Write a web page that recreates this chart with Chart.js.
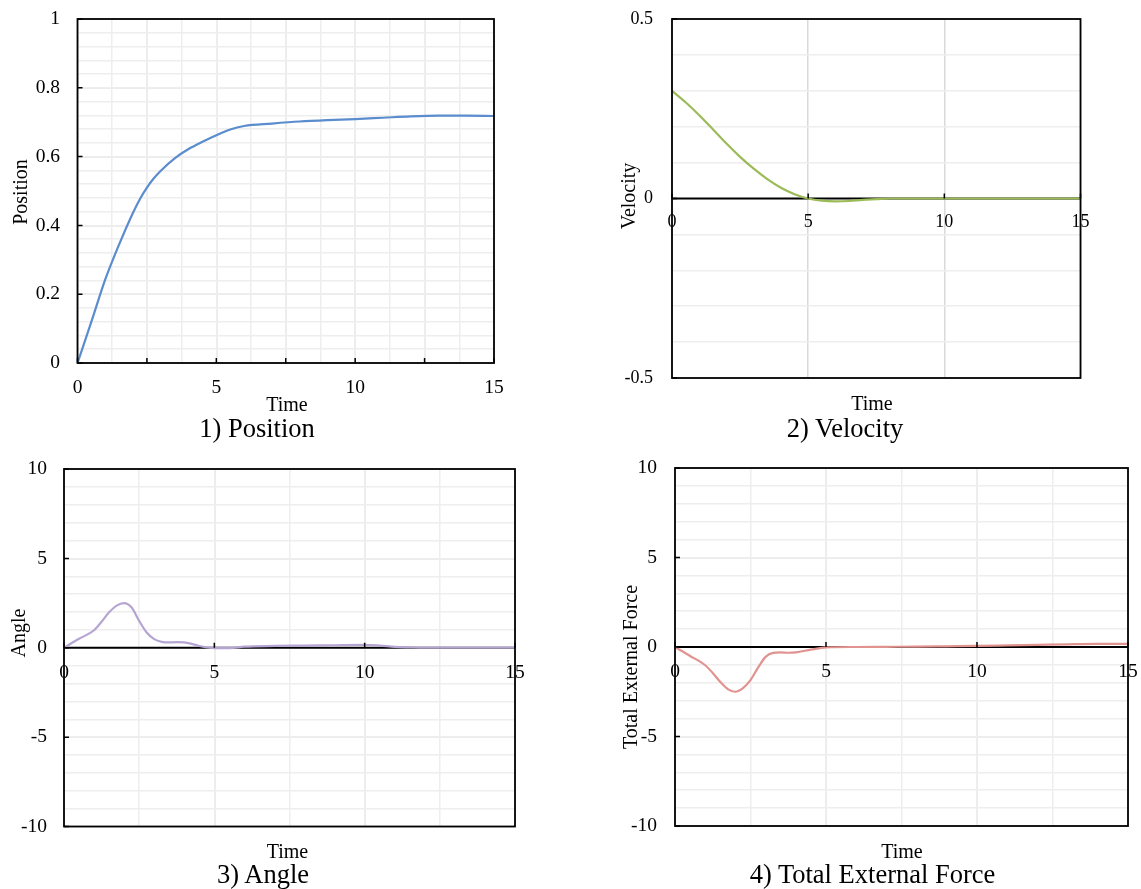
<!DOCTYPE html>
<html>
<head>
<meta charset="utf-8">
<script src="https://cdn.jsdelivr.net/npm/chart.js@4/dist/chart.umd.min.js"></script>
<style>
  html, body { margin: 0; padding: 0; background: #fff; }
  body { width: 1141px; height: 889px; position: relative; overflow: hidden;
         font-family: "Liberation Serif", "Times New Roman", serif; color: #000; }
  .panel { position: absolute; }
  .txt { position: absolute; white-space: nowrap; line-height: 1; }
</style>
</head>
<body>
<div class="panel" id="p1"><canvas id="c1"></canvas></div>
<div class="panel" id="p2"><canvas id="c2"></canvas></div>
<div class="panel" id="p3"><canvas id="c3"></canvas></div>
<div class="panel" id="p4"><canvas id="c4"></canvas></div>
<script>
// ---- simulation output: time samples and values per panel ----
const positionTime  = [0, 0.5, 1, 1.5, 2, 2.25, 2.5, 2.75, 3, 3.5, 4, 4.5, 5, 5.5, 6, 7, 8, 9, 10, 11, 12, 13, 14, 15];
const positionValue = [0, 0.12, 0.243, 0.345, 0.437, 0.477, 0.51, 0.537, 0.559, 0.595, 0.622, 0.643, 0.662, 0.679,
                       0.689, 0.696, 0.702, 0.706, 0.709, 0.713, 0.717, 0.719, 0.719, 0.718];

const velocityTime  = [0, 0.5, 1, 1.5, 2, 2.5, 3, 3.5, 4, 4.5, 5, 5.5, 6, 6.5, 7, 7.5, 8, 9, 10, 11, 12, 13, 14, 15];
const velocityValue = [0.3, 0.268, 0.232, 0.193, 0.153, 0.116, 0.083, 0.054, 0.03, 0.012, 0, -0.006, -0.008,
                       -0.007, -0.004, -0.002, 0, 0, 0, 0, 0, 0, 0, 0];

const angleTime  = [0, 0.5, 1, 1.25, 1.5, 1.75, 2, 2.25, 2.5, 2.75, 3, 3.25, 3.5, 3.75, 4, 4.25, 4.5, 4.75,
                    5, 5.5, 6, 7, 8, 9, 10, 10.5, 11, 11.5, 12, 13, 14, 15];
const angleValue = [0, 0.5, 0.98, 1.45, 1.98, 2.36, 2.5, 2.25, 1.5, 0.85, 0.48, 0.33, 0.3, 0.31, 0.3, 0.22, 0.1, 0.02,
                    -0.02, -0.02, 0.06, 0.1, 0.12, 0.14, 0.16, 0.12, 0.05, 0.02, 0, 0, 0, 0];

const forceTime  = [0, 0.5, 1, 1.25, 1.5, 1.75, 2, 2.25, 2.5, 2.75, 3, 3.25, 3.5, 3.75, 4, 4.5, 5, 6, 7, 8, 9,
                    10, 11, 12, 13, 14, 15];
const forceValue = [0, -0.5, -1.02, -1.45, -1.95, -2.35, -2.5, -2.3, -1.85, -1.15, -0.55, -0.33, -0.3, -0.32, -0.3,
                    -0.15, -0.02, 0, 0.01, 0.02, 0.04, 0.06, 0.09, 0.12, 0.15, 0.17, 0.17];

// ---- labels ----
const timeRange       = [0, 15];
const timeTickLabels  = [0, 5, 10, 15];
const xAxisTitle      = 'Time';
const yAxisTitles     = ['Position', 'Velocity', 'Angle', 'Total External Force'];
const panelCaptions   = ['1) Position', '2) Velocity', '3) Angle', '4) Total External Force'];

// ---- styling ----
const FONT  = '"Liberation Serif", "Times New Roman", serif';
const MAJOR = '#d9d9d9';
const MINOR = '#eeeeee';
const FRAME_WIDTH = 1.8;

// plot frame, zero axis and inward tick marks
const framePlugin = {
  id: 'frame',
  beforeDatasetsDraw(chart, args, opts) {
    if (!opts.zeroAxis) return;
    const {ctx, chartArea: a, scales} = chart;
    const y0 = scales.y.getPixelForValue(0);
    ctx.save();
    ctx.strokeStyle = '#000';
    ctx.lineWidth = FRAME_WIDTH;
    ctx.beginPath();
    ctx.moveTo(a.left, y0);
    ctx.lineTo(a.right, y0);
    ctx.stroke();
    ctx.restore();
  },
  afterDraw(chart, args, opts) {
    const {ctx, chartArea: a, scales} = chart;
    ctx.save();
    ctx.strokeStyle = '#000';
    ctx.lineWidth = FRAME_WIDTH;
    ctx.strokeRect(a.left, a.top, a.right - a.left, a.bottom - a.top);
    const axisY = opts.zeroAxis ? scales.y.getPixelForValue(0) : a.bottom;
    ctx.lineWidth = 1.5;
    ctx.beginPath();
    scales.x.ticks.forEach(t => {
      const px = scales.x.getPixelForValue(t.value);
      ctx.moveTo(px, axisY);
      ctx.lineTo(px, axisY - 5);
    });
    scales.y.ticks.forEach(t => {
      const py = scales.y.getPixelForValue(t.value);
      ctx.moveTo(a.left, py);
      ctx.lineTo(a.left + 5, py);
    });
    ctx.stroke();
    ctx.restore();
  }
};

// fixed scale sizes: no extra room reserved for overhanging labels
function fixSize(prop, size) {
  return s => {
    s[prop] = size;
    s.paddingTop = 0; s.paddingBottom = 0; s.paddingLeft = 0; s.paddingRight = 0;
  };
}

function makePanel(cfg) {
  const box = document.getElementById(cfg.box);
  Object.assign(box.style, {left: cfg.left + 'px', top: cfg.top + 'px',
                            width: cfg.width + 'px', height: cfg.height + 'px'});
  const tickFont = {family: FONT, size: cfg.tickSize};
  const scales = {
    x: {
      type: 'linear', axis: 'x', min: timeRange[0], max: timeRange[1],
      position: cfg.zeroAxis ? {y: 0} : 'bottom',
      afterFit: fixSize('height', cfg.xHeight),
      grid: {color: MAJOR, lineWidth: 1.5, drawTicks: false},
      border: {display: false},
      ticks: {stepSize: cfg.xMajor, autoSkip: false, maxRotation: 0, padding: cfg.xPad,
              color: '#000', font: tickFont,
              callback: v => timeTickLabels.includes(v) ? String(v) : ''}
    },
    y: {
      type: 'linear', axis: 'y', min: cfg.yMin, max: cfg.yMax, position: 'left',
      afterFit: fixSize('width', cfg.yWidth),
      grid: {color: c => (cfg.zeroAxis && c.tick && c.tick.value === 0) ? 'rgba(0,0,0,0)' : MAJOR,
             lineWidth: 1.5, drawTicks: false},
      border: {display: false},
      ticks: {stepSize: cfg.yMajor, padding: cfg.yPad, color: '#000', font: tickFont,
              callback: v => String(Number(v.toFixed(2)))}
    }
  };
  if (cfg.xMinor) {
    scales.xMinor = {
      type: 'linear', axis: 'x', min: timeRange[0], max: timeRange[1], position: 'bottom', z: -1,
      afterFit: fixSize('height', 0),
      grid: {color: MINOR, lineWidth: 1.5, drawTicks: false},
      border: {display: false},
      ticks: {display: false, stepSize: cfg.xMinor}
    };
  }
  scales.yMinor = {
    type: 'linear', axis: 'y', min: cfg.yMin, max: cfg.yMax, position: 'left', z: -1,
    afterFit: fixSize('width', 0),
    grid: {color: MINOR, lineWidth: 1.5, drawTicks: false},
    border: {display: false},
    ticks: {display: false, stepSize: cfg.yMinor}
  };

  return new Chart(document.getElementById(cfg.canvas), {
    type: 'line',
    data: {
      datasets: [{
        data: cfg.time.map((t, i) => ({x: t, y: cfg.values[i]})),
        borderColor: cfg.color,
        borderWidth: 2.2,
        pointRadius: 0,
        cubicInterpolationMode: 'monotone',
        xAxisID: 'x', yAxisID: 'y'
      }]
    },
    options: {
      responsive: true, maintainAspectRatio: false, animation: false, devicePixelRatio: 1,
      layout: {padding: cfg.padding},
      scales,
      plugins: {legend: {display: false}, tooltip: {enabled: false}, frame: {zeroAxis: cfg.zeroAxis}}
    },
    plugins: [framePlugin]
  });
}

makePanel({box: 'p1', canvas: 'c1', left: 0, top: 0, width: 514, height: 400,
  padding: {left: 0, top: 19, right: 20, bottom: 0}, yWidth: 77.5, xHeight: 37,
  time: positionTime, values: positionValue, color: '#5b8cce',
  yMin: 0, yMax: 1, yMajor: 0.2, yMinor: 0.04, xMajor: 2.5, xMinor: 1.25,
  tickSize: 19.5, xPad: 13, yPad: 17.5, zeroAxis: false});

makePanel({box: 'p2', canvas: 'c2', left: 600, top: 0, width: 500, height: 420,
  padding: {left: 0, top: 19, right: 19.5, bottom: 42}, yWidth: 72, xHeight: 0,
  time: velocityTime, values: velocityValue, color: '#9bbb59',
  yMin: -0.5, yMax: 0.5, yMajor: 0.5, yMinor: 0.1, xMajor: 5, xMinor: 0,
  tickSize: 18, xPad: 12.7, yPad: 19, zeroAxis: true});

makePanel({box: 'p3', canvas: 'c3', left: 0, top: 450, width: 540, height: 400,
  padding: {left: 0, top: 19, right: 25, bottom: 23.5}, yWidth: 64, xHeight: 0,
  time: angleTime, values: angleValue, color: '#b5a5d2',
  yMin: -10, yMax: 10, yMajor: 5, yMinor: 1, xMajor: 5, xMinor: 2.5,
  tickSize: 19.5, xPad: 13, yPad: 17, zeroAxis: true});

makePanel({box: 'p4', canvas: 'c4', left: 610, top: 450, width: 531, height: 400,
  padding: {left: 0, top: 18, right: 13, bottom: 24}, yWidth: 65, xHeight: 0,
  time: forceTime, values: forceValue, color: '#e0938f',
  yMin: -10, yMax: 10, yMajor: 5, yMinor: 1, xMajor: 5, xMinor: 2.5,
  tickSize: 19.5, xPad: 13, yPad: 18, zeroAxis: true});

// axis titles and panel captions
function addText(text, x, baseline, size) {
  const d = document.createElement('div');
  d.className = 'txt';
  d.textContent = text;
  d.style.fontSize = size + 'px';
  d.style.left = x + 'px';
  d.style.top = (baseline - 0.8375 * size) + 'px';
  d.style.transform = 'translateX(-50%)';
  document.body.appendChild(d);
}
function addVerticalText(text, cx, cy, size) {
  const d = document.createElement('div');
  d.className = 'txt';
  d.textContent = text;
  d.style.fontSize = size + 'px';
  d.style.left = cx + 'px';
  d.style.top = cy + 'px';
  d.style.transform = 'translate(-50%, -50%) rotate(-90deg)';
  document.body.appendChild(d);
}

addVerticalText(yAxisTitles[0], 19.5, 192, 20);
addVerticalText(yAxisTitles[1], 628, 196, 20);
addVerticalText(yAxisTitles[2], 18, 633, 20);
addVerticalText(yAxisTitles[3], 630, 667, 20);

addText(xAxisTitle, 287, 411, 20);
addText(xAxisTitle, 872, 410, 20);
addText(xAxisTitle, 287.5, 858, 20);
addText(xAxisTitle, 902, 858, 20);

addText(panelCaptions[0], 257, 437, 26.5);
addText(panelCaptions[1], 845, 437, 26.5);
addText(panelCaptions[2], 263, 883, 26.5);
addText(panelCaptions[3], 872.5, 883, 26.5);
</script>
</body>
</html>
